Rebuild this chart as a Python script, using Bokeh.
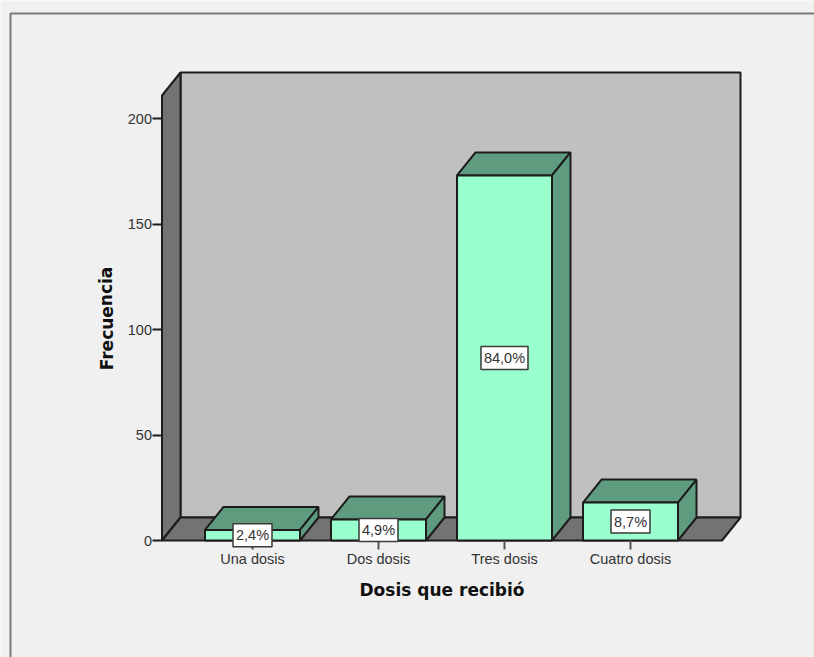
from bokeh.plotting import figure
from bokeh.models import Range1d, LinearAxis, FixedTicker
from bokeh.core.properties import value
from bokeh.embed import file_html
from bokeh.resources import INLINE

# Chart data
categories = ["Una dosis", "Dos dosis", "Tres dosis", "Cuatro dosis"]
frequencies = [5, 10, 173, 18]
percent_labels = ["2,4%", "4,9%", "84,0%", "8,7%"]
y_ticks = [0, 50, 100, 150, 200]
x_title = "Dosis que recibió"
y_title = "Frecuencia"

# Scale: one category step is 126 px, one frequency unit is 2.11 px
W, H = 814, 657
STEP_PX, UNIT_PX = 126.0, 2.11
X0_PX, Y0_PX = 252.0, 540.0


def px_x(px):
    return (px - X0_PX) / STEP_PX


def px_y(px):
    return (Y0_PX - px) / UNIT_PX


# Extruded box geometry, in data units
DX = 18.5 / STEP_PX
DY = 23 / UNIT_PX
BAR_HALF = 47.5 / STEP_PX
FLOOR_L, FLOOR_R = px_x(161.5), px_x(721.5)
WALL_TOP = 210.9

INK = "#1c1c1c"
BG = "#f0f0f0"
WALL = "#c0c0c0"
SIDE = "#737373"
BAR_FRONT = "#99ffcc"
BAR_DARK = "#5f9c7f"
TEXT = "#333333"
FONT = "Liberation Sans"
TITLE_FONT = "DejaVu Sans"

p = figure(
    width=W, height=H, output_backend="svg", toolbar_location=None,
    x_range=Range1d(px_x(0), px_x(W)),
    y_range=Range1d(px_y(H), px_y(0)),
    x_axis_location=None, y_axis_location=None,
    min_border=0, background_fill_color=BG, border_fill_color=BG,
    outline_line_color=None,
)
p.grid.visible = False

# Panel border along the top and left edges
p.line([px_x(10), px_x(10), px_x(W)], [px_y(H), px_y(13), px_y(13)],
       line_color="#7a7a7a", line_width=2)

# Back wall, left wall and floor
p.patch([FLOOR_L + DX, FLOOR_R + DX, FLOOR_R + DX, FLOOR_L + DX],
        [DY, DY, WALL_TOP + DY, WALL_TOP + DY],
        fill_color=WALL, line_color=INK, line_width=2)
p.patch([FLOOR_L, FLOOR_L + DX, FLOOR_L + DX, FLOOR_L],
        [0, DY, WALL_TOP + DY, WALL_TOP],
        fill_color=SIDE, line_color=INK, line_width=2)
p.patch([FLOOR_L, FLOOR_R, FLOOR_R + DX, FLOOR_L + DX],
        [0, 0, DY, DY],
        fill_color=SIDE, line_color=INK, line_width=2)

# Bars: top face, side face, front face
for i, v in enumerate(frequencies):
    l, r = i - BAR_HALF, i + BAR_HALF
    p.patch([l, r, r + DX, l + DX], [v, v, v + DY, v + DY],
            fill_color=BAR_DARK, line_color=INK, line_width=2)
    p.patch([r, r + DX, r + DX, r], [0, DY, v + DY, v],
            fill_color=BAR_DARK, line_color=INK, line_width=2)
    p.patch([l, r, r, l], [0, 0, v, v],
            fill_color=BAR_FRONT, line_color=INK, line_width=2)

# Axes pinned to the front edge of the box
yaxis = LinearAxis(
    fixed_location=FLOOR_L, ticker=FixedTicker(ticks=y_ticks),
    major_label_text_font=FONT, major_label_text_font_size="14.5px",
    major_label_text_color=TEXT, major_label_standoff=0,
    major_tick_in=0, major_tick_out=10, major_tick_line_color=INK, major_tick_line_width=2,
    minor_tick_line_color=None, axis_line_color=None,
)
p.add_layout(yaxis, "left")

xaxis = LinearAxis(
    fixed_location=0, ticker=FixedTicker(ticks=list(range(len(categories)))),
    major_label_overrides={i: c for i, c in enumerate(categories)},
    major_label_text_font=FONT, major_label_text_font_size="14.5px",
    major_label_text_color=TEXT, major_label_standoff=1,
    major_tick_in=0, major_tick_out=9, major_tick_line_color="#555555", major_tick_line_width=2,
    minor_tick_line_color=None, axis_line_color=None,
)
p.add_layout(xaxis, "below")

# Axis titles
p.text([px_x(441.5)], [px_y(589)], text=[x_title], text_align="center", text_baseline="middle",
       text_font=value(TITLE_FONT), text_font_size="17px", text_font_style="bold", text_color="#111111")
p.text([px_x(106)], [px_y(318)], text=[y_title], angle=1.5708, text_align="center", text_baseline="middle",
       text_font=value(TITLE_FONT), text_font_size="17px", text_font_style="bold", text_color="#111111")

# Percentage tags centred on each bar's front face
xs = list(range(len(categories)))
mids = [v / 2 for v in frequencies]
widths = [47 if len(t) > 4 else 39 for t in percent_labels]
tags = p.rect(xs, mids, width=widths, height=23, width_units="screen", height_units="screen",
              fill_color="#ffffff", line_color="#3a3a3a", line_width=1.5)
tags.level = "annotation"
labels = p.text(xs, mids, text=percent_labels, text_align="center", text_baseline="middle",
                text_font=value(FONT), text_font_size="14.5px", text_color=TEXT)
labels.level = "annotation"

open("out.html", "w").write(file_html(p, INLINE))
